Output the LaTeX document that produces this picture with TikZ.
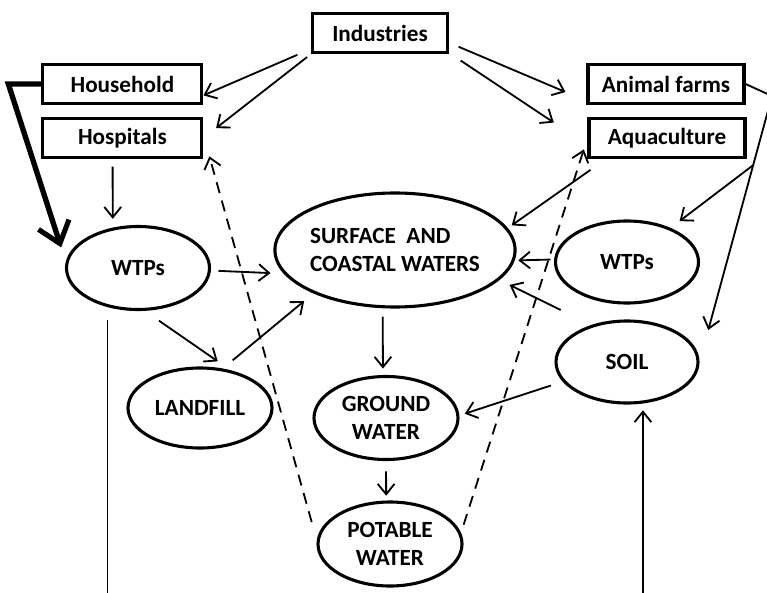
\documentclass[tikz,border=0pt]{standalone}
\usepackage{fontspec}
\setmainfont{Carlito}
\usetikzlibrary{arrows.meta,shapes.geometric}

\begin{document}
\begin{tikzpicture}[x=1cm,y=1cm,
    sourcebox/.style={draw,rectangle,line width=2.2pt,inner sep=0pt,
      minimum width=3.95cm,minimum height=.975cm,
      font=\fontsize{16.5}{20}\selectfont\bfseries},
    waterbody/.style={draw,ellipse,line width=2.2pt,inner sep=0pt,align=center,
      font=\fontsize{16.5}{20}\selectfont\bfseries},
    flow/.style={-{Straight Barb[length=2.6mm,width=4.2mm]},line width=1.3pt},
    backflow/.style={flow,dash pattern=on 8pt off 5.5pt},
    bigflow/.style={-{Straight Barb[length=5mm,width=8mm,line width=3.6pt]},
      line width=3.8pt,line join=miter}]
    \useasboundingbox (0,0) rectangle (19.175,14.8);
    \clip (0,0) rectangle (19.175,14.8);
    % sources
    \node[sourcebox,minimum width=3.375cm] (ind) at (9.5,13.975) {Industries};
    \node[sourcebox,minimum width=3.975cm] (house) at (3.06,12.7) {Household};
    \node[sourcebox,minimum width=3.975cm] (hosp) at (3.06,11.35) {Hospitals};
    \node[sourcebox,minimum width=3.9cm] (farms) at (16.65,12.7) {Animal farms};
    \node[sourcebox,minimum width=3.9cm] (aqua) at (16.675,11.35) {Aquaculture};
    % compartments
    \node[waterbody,minimum width=5cm,minimum height=2.85cm,align=left]
      (surf) at (9.875,8.55) {SURFACE\ \ AND\\COASTAL WATERS};
    \node[waterbody,minimum width=3.575cm,minimum height=2.075cm] (wtpL) at (3.45,8.1) {WTPs};
    \node[waterbody,minimum width=3.575cm,minimum height=2.05cm] (wtpR) at (15.675,8.25) {WTPs};
    \node[waterbody,minimum width=3.6cm,minimum height=2cm] (land) at (5,4.6) {LANDFILL};
    \node[waterbody,minimum width=3.6cm,minimum height=2.075cm] (ground) at (9.65,4.35) {GROUND\\WATER};
    \node[waterbody,minimum width=3.55cm,minimum height=2.05cm] (soil) at (15.675,5.75) {SOIL};
    \node[waterbody,minimum width=3.6cm,minimum height=2.1cm] (pot) at (9.75,1.2) {POTABLE\\WATER};
    \coordinate (floor) at (0,-.3);
    \coordinate (bendF) at (19.3,12.4);
    % industries
    \draw[flow,shorten <=.37cm] (ind.193) -- (house.-8);
    \draw[flow,shorten <=.12cm,shorten >=.4cm] (ind.south west) -- (hosp.east);
    \draw[flow,shorten <=.26cm,shorten >=.57cm] (ind.-8.4) -- (farms.192);
    \draw[flow,shorten <=.35cm,shorten >=1.01cm] (ind.-16.6) -- (aqua.185);
    % left side
    \draw[bigflow,shorten >=.375cm] (house.west) -- ++(-.825,0) -- (wtpL.175);
    \draw[flow,shorten <=.19cm,shorten >=.22cm] (hosp.245) -- (wtpL.122.7);
    \draw[flow,shorten <=.19cm,shorten >=.33cm] (wtpL.-2) -- (surf.192);
    \draw[flow,shorten <=.43cm,shorten >=.39cm] (wtpL.-81) -- (land.51);
    \draw[flow,shorten <=.32cm,shorten >=.3cm] (land.60) -- (surf.208.5);
    \draw[line width=1.3pt,shorten <=.33cm] (wtpL.232.6) -- (wtpL.232.6 |- floor);
    % middle
    \draw[flow,shorten <=.21cm,shorten >=.16cm] (surf.258) -- (ground.94);
    \draw[flow,shorten <=.26cm,shorten >=.12cm] (ground.south) -- (pot.95);
    % right side
    \draw[flow,shorten <=.47cm,shorten >=.12cm] (aqua.199.2) -- (surf.11.8);
    \draw[flow,shorten <=.09cm,shorten >=.09cm] (wtpR.178.4) -- (surf.-5.8);
    \draw[flow,shorten <=.85cm,shorten >=.28cm] (soil.134.5) -- (surf.-16.5);
    \draw[flow,shorten <=.31cm,shorten >=.14cm] (soil.197) -- (ground.2.6);
    \draw[flow,shorten >=.17cm] (soil.-69.5 |- floor) -- (soil.-69.5);
    \draw[flow,shorten >=.83cm] (farms.east) -- (bendF)
      -- coordinate[pos=.26] (fork) (soil.east);
    \draw[flow,shorten >=.28cm] (fork) -- (wtpR.38.2);
    % back to the users
    \draw[backflow,shorten <=.47cm,shorten >=.55cm] (pot.177.6) -- (hosp.2.1);
    \draw[backflow,shorten <=.21cm,shorten >=.3cm] (pot.9) -- (aqua.west);
  \end{tikzpicture}
\end{document}
